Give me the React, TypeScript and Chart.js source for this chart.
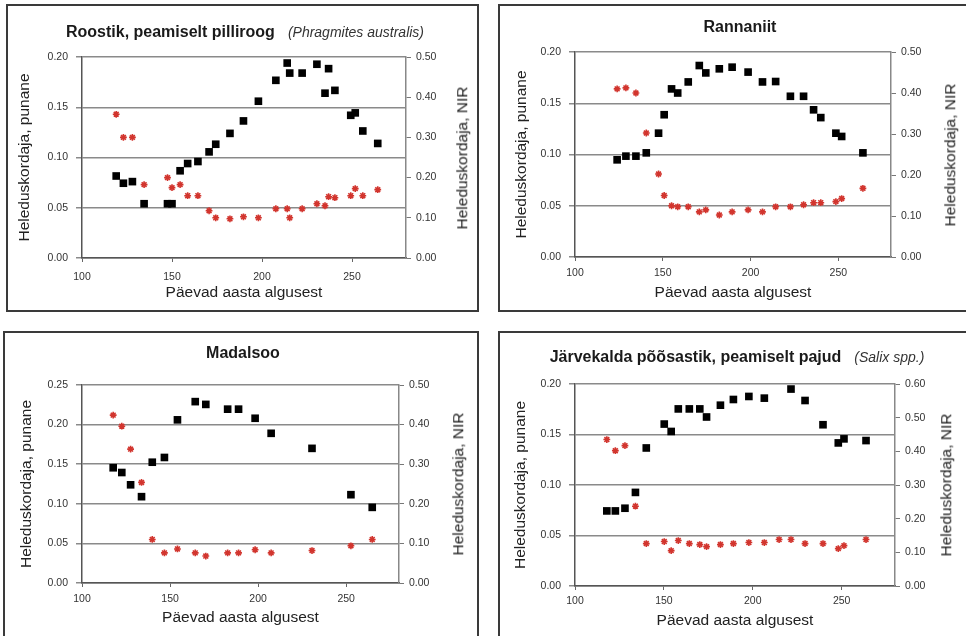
import React, { useEffect, useRef } from "react";
import { Chart, registerables } from "chart.js";

Chart.register(...registerables);

const FONT = "'Liberation Sans', Arial, sans-serif";

// X axis ticks (days from start of year)
const xTicks = [100, 150, 200, 250];

// Panel 1 – Roostik
const days1 = [119, 123, 128, 134.5, 147.5, 150, 154.5, 158.7, 164.4, 170.6, 174.3, 182.2, 189.7, 198, 207.7, 214, 215.4, 222.3, 230.5, 235, 237, 240.5, 249.3, 251.8, 256, 264.3];
const nir1 = [0.204, 0.186, 0.19, 0.135, 0.135, 0.135, 0.217, 0.235, 0.24, 0.264, 0.283, 0.31, 0.341, 0.39, 0.442, 0.485, 0.46, 0.46, 0.482, 0.41, 0.471, 0.417, 0.355, 0.361, 0.316, 0.285];
const red1 = [0.143, 0.12, 0.12, 0.073, 0.08, 0.07, 0.073, 0.062, 0.062, 0.047, 0.04, 0.039, 0.041, 0.04, 0.049, 0.049, 0.04, 0.049, 0.054, 0.052, 0.061, 0.06, 0.062, 0.069, 0.062, 0.068];

// Panel 2 – Rannaniit
const days2 = [124, 129, 134.7, 140.6, 147.6, 150.8, 155, 158.5, 164.5, 170.8, 174.5, 182.2, 189.5, 198.6, 206.8, 214.3, 222.7, 230.2, 235.9, 240, 248.6, 251.9, 264];
const nir2 = [0.237, 0.246, 0.246, 0.254, 0.302, 0.347, 0.41, 0.4, 0.427, 0.467, 0.449, 0.459, 0.463, 0.451, 0.427, 0.428, 0.392, 0.392, 0.359, 0.34, 0.302, 0.294, 0.254];
const red2 = [0.164, 0.165, 0.16, 0.121, 0.081, 0.06, 0.05, 0.049, 0.049, 0.044, 0.046, 0.041, 0.044, 0.046, 0.044, 0.049, 0.049, 0.051, 0.053, 0.053, 0.054, 0.057, 0.067];

// Panel 3 – Madalsoo
const days3 = [117.7, 122.6, 127.6, 133.8, 139.9, 146.8, 154.2, 164.3, 170.3, 182.7, 188.9, 198.3, 207.4, 230.6, 252.7, 264.8];
const nir3 = [0.291, 0.279, 0.248, 0.218, 0.305, 0.317, 0.412, 0.458, 0.451, 0.439, 0.439, 0.416, 0.378, 0.34, 0.223, 0.191];
const red3 = [0.212, 0.198, 0.169, 0.127, 0.055, 0.038, 0.043, 0.038, 0.034, 0.038, 0.038, 0.042, 0.038, 0.041, 0.047, 0.055];

// Panel 4 – Järvekalda põõsastik
const days4 = [117.9, 122.7, 128.1, 134, 140.1, 150.2, 154.1, 158.1, 164.3, 170.2, 174, 181.8, 189.1, 197.8, 206.5, 214.8, 221.5, 229.4, 239.5, 248.1, 251.3, 263.7];
const nir4 = [0.223, 0.223, 0.231, 0.278, 0.41, 0.481, 0.459, 0.526, 0.526, 0.526, 0.502, 0.537, 0.554, 0.563, 0.558, null, 0.585, 0.551, 0.479, 0.425, 0.437, 0.432];
const red4 = [0.145, 0.134, 0.139, 0.079, 0.042, 0.044, 0.035, 0.045, 0.042, 0.041, 0.039, 0.041, 0.042, 0.043, 0.043, 0.046, 0.046, 0.042, 0.042, 0.037, 0.04, 0.046];

const xTitle = "Päevad aasta algusest";
const leftTitle = "Heleduskordaja, punane";
const rightTitle = "Heleduskordaja, NIR";

type Panel = {
  box: { x: number; y: number; w: number; h: number };
  plot: { l: number; t: number; r: number; b: number };
  titleBold: string;
  titleItalic?: string;
  titleCx: number;
  titleCy: number;
  leftTitleX: number;
  rightTitleX: number;
  xTitleCy: number;
  xTickPad: number;
  leftMax: number;
  rightMax: number;
  days: number[];
  red: number[];
  nir: (number | null)[];
};

const panels: Panel[] = [
  {
    box: { x: 6, y: 4, w: 473, h: 308 },
    plot: { l: 82, t: 57, r: 406, b: 258 },
    titleBold: "Roostik, peamiselt pilliroog",
    titleItalic: "(Phragmites australis)",
    titleCx: 245, titleCy: 32,
    leftTitleX: 25, rightTitleX: 462, xTitleCy: 293, xTickPad: 9,
    leftMax: 0.2, rightMax: 0.5,
    days: days1, red: red1, nir: nir1,
  },
  {
    box: { x: 498, y: 4, w: 486, h: 308 },
    plot: { l: 575, t: 52, r: 891, b: 257 },
    titleBold: "Rannaniit",
    titleCx: 740, titleCy: 27,
    leftTitleX: 522, rightTitleX: 950, xTitleCy: 293, xTickPad: 6,
    leftMax: 0.2, rightMax: 0.5,
    days: days2, red: red2, nir: nir2,
  },
  {
    box: { x: 3, y: 331, w: 476, h: 308 },
    plot: { l: 82, t: 385, r: 399, b: 583 },
    titleBold: "Madalsoo",
    titleCx: 243, titleCy: 353,
    leftTitleX: 27, rightTitleX: 458, xTitleCy: 618, xTickPad: 6,
    leftMax: 0.25, rightMax: 0.5,
    days: days3, red: red3, nir: nir3,
  },
  {
    box: { x: 498, y: 331, w: 486, h: 308 },
    plot: { l: 575, t: 384, r: 895, b: 586 },
    titleBold: "Järvekalda põõsastik, peamiselt pajud",
    titleItalic: "(Salix spp.)",
    titleCx: 737, titleCy: 357,
    leftTitleX: 521, rightTitleX: 946, xTitleCy: 621, xTickPad: 5,
    leftMax: 0.2, rightMax: 0.6,
    days: days4, red: red4, nir: nir4,
  },
];

const BORDER = 2;
const AXIS_TITLE = 15.5;
const CHART_TITLE = 16;
const ITALIC_TITLE = 14;
const LH = 1.2;

function PanelChart({ p }: { p: Panel }) {
  const ref = useRef<HTMLCanvasElement | null>(null);
  const innerL = p.box.x + BORDER;
  const innerT = p.box.y + BORDER;
  const cw = p.box.w - 2 * BORDER;
  const ch = p.box.h - 2 * BORDER;
  const innerR = innerL + cw;
  const innerB = innerT + ch;

  useEffect(() => {
    if (!ref.current) return;
    const half = (AXIS_TITLE * LH) / 2;
    const chart = new Chart(ref.current, {
      type: "scatter",
      data: {
        datasets: [
          {
            label: "NIR",
            data: p.days.map((d, i) => ({ x: d, y: p.nir[i] as any })),
            yAxisID: "y1",
            pointStyle: "rect",
            radius: 5.4,
            backgroundColor: "#000",
            borderColor: "#000",
            borderWidth: 0,
          },
          {
            label: "punane",
            data: p.days.map((d, i) => ({ x: d, y: p.red[i] })),
            yAxisID: "y",
            pointStyle: "star",
            radius: 3.4,
            backgroundColor: "#e0413a",
            borderColor: "#d2352e",
            borderWidth: 1.6,
          },
        ],
      },
      options: {
        animation: false,
        responsive: false,
        maintainAspectRatio: false,
        events: [],
        layout: { padding: { top: p.plot.t - innerT, left: 0, right: 0, bottom: 0 } },
        plugins: { legend: { display: false }, tooltip: { enabled: false }, title: { display: false } },
        scales: {
          x: {
            type: "linear",
            position: "bottom",
            min: 100,
            max: 280,
            afterFit: (s: any) => { s.height = innerB - p.plot.b; },
            afterBuildTicks: (s: any) => { s.ticks = xTicks.map((v) => ({ value: v })); },
            ticks: { stepSize: 50, includeBounds: false, color: "#333", font: { family: FONT, size: 10.5 }, padding: p.xTickPad, maxRotation: 0 },
            grid: { display: true, drawOnChartArea: false, drawTicks: true, tickLength: 4, color: "#666", lineWidth: 1 },
            border: { display: true, color: "#555", width: 1.5 },
            title: { display: true, text: xTitle, color: "#222", font: { family: FONT, size: AXIS_TITLE, lineHeight: LH }, padding: { top: 0, bottom: innerB - half - p.xTitleCy } },
          },
          y: {
            type: "linear",
            position: "left",
            min: 0,
            max: p.leftMax,
            afterFit: (s: any) => { s.width = p.plot.l - innerL; },
            ticks: { stepSize: 0.05, color: "#333", font: { family: FONT, size: 10.5 }, padding: 8, callback: (v: any) => Number(v).toFixed(2) },
            grid: { display: true, drawOnChartArea: true, drawTicks: true, tickLength: 6, color: "#8a8a8a", lineWidth: 1.5 },
            border: { display: true, color: "#555", width: 1.5 },
            title: { display: true, text: leftTitle, color: "#222", font: { family: FONT, size: AXIS_TITLE, lineHeight: LH }, padding: { top: p.leftTitleX - innerL - half, bottom: 0 } },
          },
          y1: {
            type: "linear",
            position: "right",
            min: 0,
            max: p.rightMax,
            afterFit: (s: any) => { s.width = innerR - p.plot.r; },
            ticks: { stepSize: 0.1, color: "#333", font: { family: FONT, size: 10.5 }, padding: 5, callback: (v: any) => Number(v).toFixed(2) },
            grid: { display: true, drawOnChartArea: false, drawTicks: true, tickLength: 5, color: "#777", lineWidth: 1 },
            border: { display: true, color: "#888", width: 1.5 },
            title: { display: false },
          },
        },
      } as any,
    });
    return () => chart.destroy();
  }, []);

  return (
    <div
      style={{
        position: "absolute",
        left: p.box.x,
        top: p.box.y,
        width: p.box.w - 2 * BORDER,
        height: p.box.h - 2 * BORDER,
        border: `${BORDER}px solid #3a3a3a`,
        background: "#fff",
      }}
    >
      <canvas ref={ref} width={cw} height={ch} style={{ position: "absolute", left: 0, top: 0, width: cw, height: ch }} />
      <div
        style={{
          position: "absolute",
          left: p.titleCx - innerL,
          top: p.titleCy - innerT,
          transform: "translate(-50%, -50%)",
          whiteSpace: "nowrap",
          fontFamily: FONT,
          fontSize: CHART_TITLE,
          color: "#1a1a1a",
          lineHeight: 1,
        }}
      >
        <span style={{ fontWeight: "bold" }}>{p.titleBold}</span>
        {p.titleItalic ? <span style={{ fontStyle: "italic", fontSize: ITALIC_TITLE, marginLeft: 13, color: "#333" }}>{p.titleItalic}</span> : null}
      </div>
      <div
        style={{
          position: "absolute",
          left: p.rightTitleX - innerL,
          top: (p.plot.t + p.plot.b) / 2 - innerT,
          transform: "translate(-50%, -50%) rotate(-90deg)",
          whiteSpace: "nowrap",
          fontFamily: FONT,
          fontSize: AXIS_TITLE,
          color: "#222",
          lineHeight: 1,
        }}
      >
        {rightTitle}
      </div>
    </div>
  );
}

export default function App() {
  return (
    <div style={{ position: "fixed", left: 0, top: 0, width: 966, height: 636, overflow: "hidden", background: "#fff" }}>
      {panels.map((p, i) => (
        <PanelChart key={i} p={p} />
      ))}
    </div>
  );
}
